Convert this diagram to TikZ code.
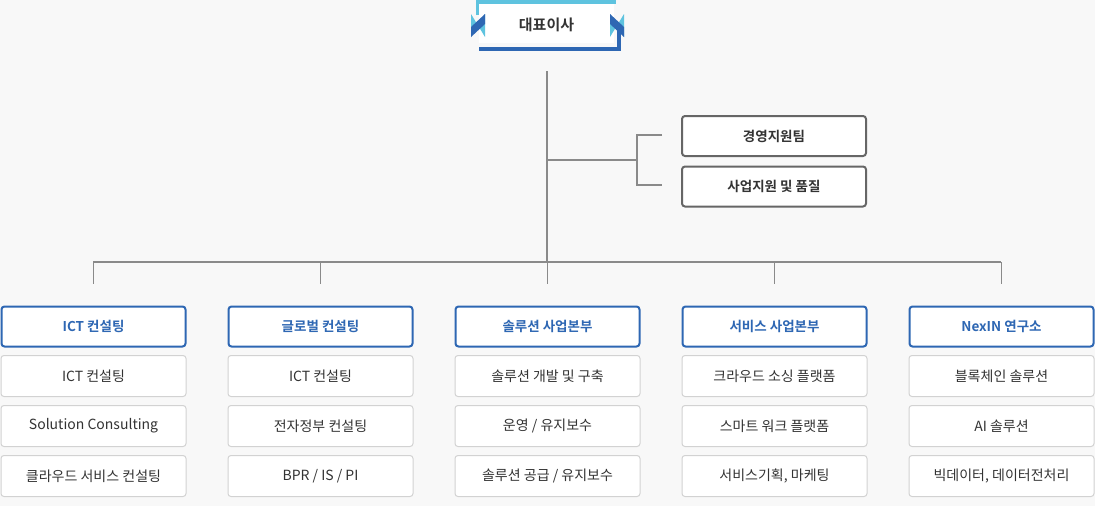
\documentclass[tikz,border=0pt]{standalone}
\usepackage{fontspec}
\setmainfont{Noto Sans CJK KR}
\newfontfamily\krb{Noto Sans CJK KR Bold}
\definecolor{bgc}{HTML}{F8F8F8}
\definecolor{hblue}{HTML}{2E67B3}
\definecolor{lblue}{HTML}{5EC3DF}
\definecolor{linec}{HTML}{8A8A8A}
\definecolor{subb}{HTML}{D2D2D2}
\definecolor{txt}{HTML}{333333}
\definecolor{grayb}{HTML}{666666}
\tikzset{
  conn/.style={draw=linec, line width=1.2pt},
  headbox/.style={draw=hblue, line width=2pt, fill=white, rounded corners=3pt,
    minimum width=184pt, minimum height=40pt, inner sep=0pt,
    font=\krb\fontsize{13.5}{16}\selectfont, text=hblue},
  subbox/.style={draw=subb, line width=1pt, fill=white, rounded corners=3pt,
    minimum width=185pt, minimum height=41pt, inner sep=0pt,
    font=\fontsize{14}{16}\selectfont, text=txt},
  sidebox/.style={draw=grayb, line width=2pt, fill=white, rounded corners=3pt,
    minimum width=184pt, minimum height=40pt, inner sep=0pt,
    font=\krb\fontsize{13.5}{16}\selectfont, text=txt},
}
\begin{document}
\begin{tikzpicture}[x=1pt,y=-1pt]
\fill[bgc] (0,0) rectangle (1095,506);
\useasboundingbox (0,0) rectangle (1095,506);
% top box decoration
\draw[lblue, line width=4pt] (477.5,15) -- (477.5,2) -- (616,2);
\draw[hblue, line width=4pt] (479,49) -- (619,49) -- (619,30);
\fill[white] (479,4) rectangle (614,43);
\node[font=\krb\fontsize{15}{18}\selectfont, text=txt, inner sep=0pt] (ceo) at (546.5,25) {대표이사};
\fill[lblue] (471,14) -- (478,25.5) -- (485,14) -- (485,37) -- (478,25.5) -- (471,37) -- cycle;
\fill[hblue] (485,14) -- (485,24) -- (471,37) -- (471,27) -- cycle;
\fill[lblue] (610,14) -- (617,25.5) -- (624,14) -- (624,37) -- (617,25.5) -- (610,37) -- cycle;
\fill[hblue] (610,14) -- (610,24) -- (624,37) -- (624,27) -- cycle;
% side boxes
\node[sidebox] (mgmt) at (774,136) {경영지원팀};
\node[sidebox] (qual) at (774,186.5) {사업지원 및 품질};
% coordinates
\coordinate (t0) at (547,71);
\coordinate (tm) at (547,160);
\coordinate (tb) at (547,262);
\coordinate (bm) at (637,160);
\coordinate (bt) at (637,135);
\coordinate (bb) at (637,185);
\coordinate (et) at (662,135);
\coordinate (eb) at (662,185);
\coordinate (hl) at (93,262);
\coordinate (hr) at (1001,262);
\draw[conn] (t0) -- (tm) -- (tb);
\draw[conn] (tm) -- (bm);
\draw[conn] (et) -- (bt) -- (bb) -- (eb);
\draw[conn] (hl) -- (hr);
% columns
\foreach \i/\x in {1/93.5,2/320.5,3/547.5,4/774.5,5/1001.5}{
  \coordinate (d\i) at (\x,262);
  \coordinate (e\i) at (\x,284);
  \draw[conn] (d\i) -- (e\i);
}
\node[headbox] (h1) at (93.5,326.5) {ICT 컨설팅};
\node[subbox] (s11) at (93.5,376) {ICT 컨설팅};
\node[subbox] (s12) at (93.5,426) {Solution Consulting};
\node[subbox] (s13) at (93.5,476) {클라우드 서비스 컨설팅};
\node[headbox] (h2) at (320.5,326.5) {글로벌 컨설팅};
\node[subbox] (s21) at (320.5,376) {ICT 컨설팅};
\node[subbox] (s22) at (320.5,426) {전자정부 컨설팅};
\node[subbox] (s23) at (320.5,476) {BPR / IS / PI};
\node[headbox] (h3) at (547.5,326.5) {솔루션 사업본부};
\node[subbox] (s31) at (547.5,376) {솔루션 개발 및 구축};
\node[subbox] (s32) at (547.5,426) {운영 / 유지보수};
\node[subbox] (s33) at (547.5,476) {솔루션 공급 / 유지보수};
\node[headbox] (h4) at (774.5,326.5) {서비스 사업본부};
\node[subbox] (s41) at (774.5,376) {크라우드 소싱 플랫폼};
\node[subbox] (s42) at (774.5,426) {스마트 워크 플랫폼};
\node[subbox] (s43) at (774.5,476) {서비스기획, 마케팅};
\node[headbox] (h5) at (1001.5,326.5) {NexIN 연구소};
\node[subbox] (s51) at (1001.5,376) {블록체인 솔루션};
\node[subbox] (s52) at (1001.5,426) {AI 솔루션};
\node[subbox] (s53) at (1001.5,476) {빅데이터, 데이터전처리};
\end{tikzpicture}
\end{document}
